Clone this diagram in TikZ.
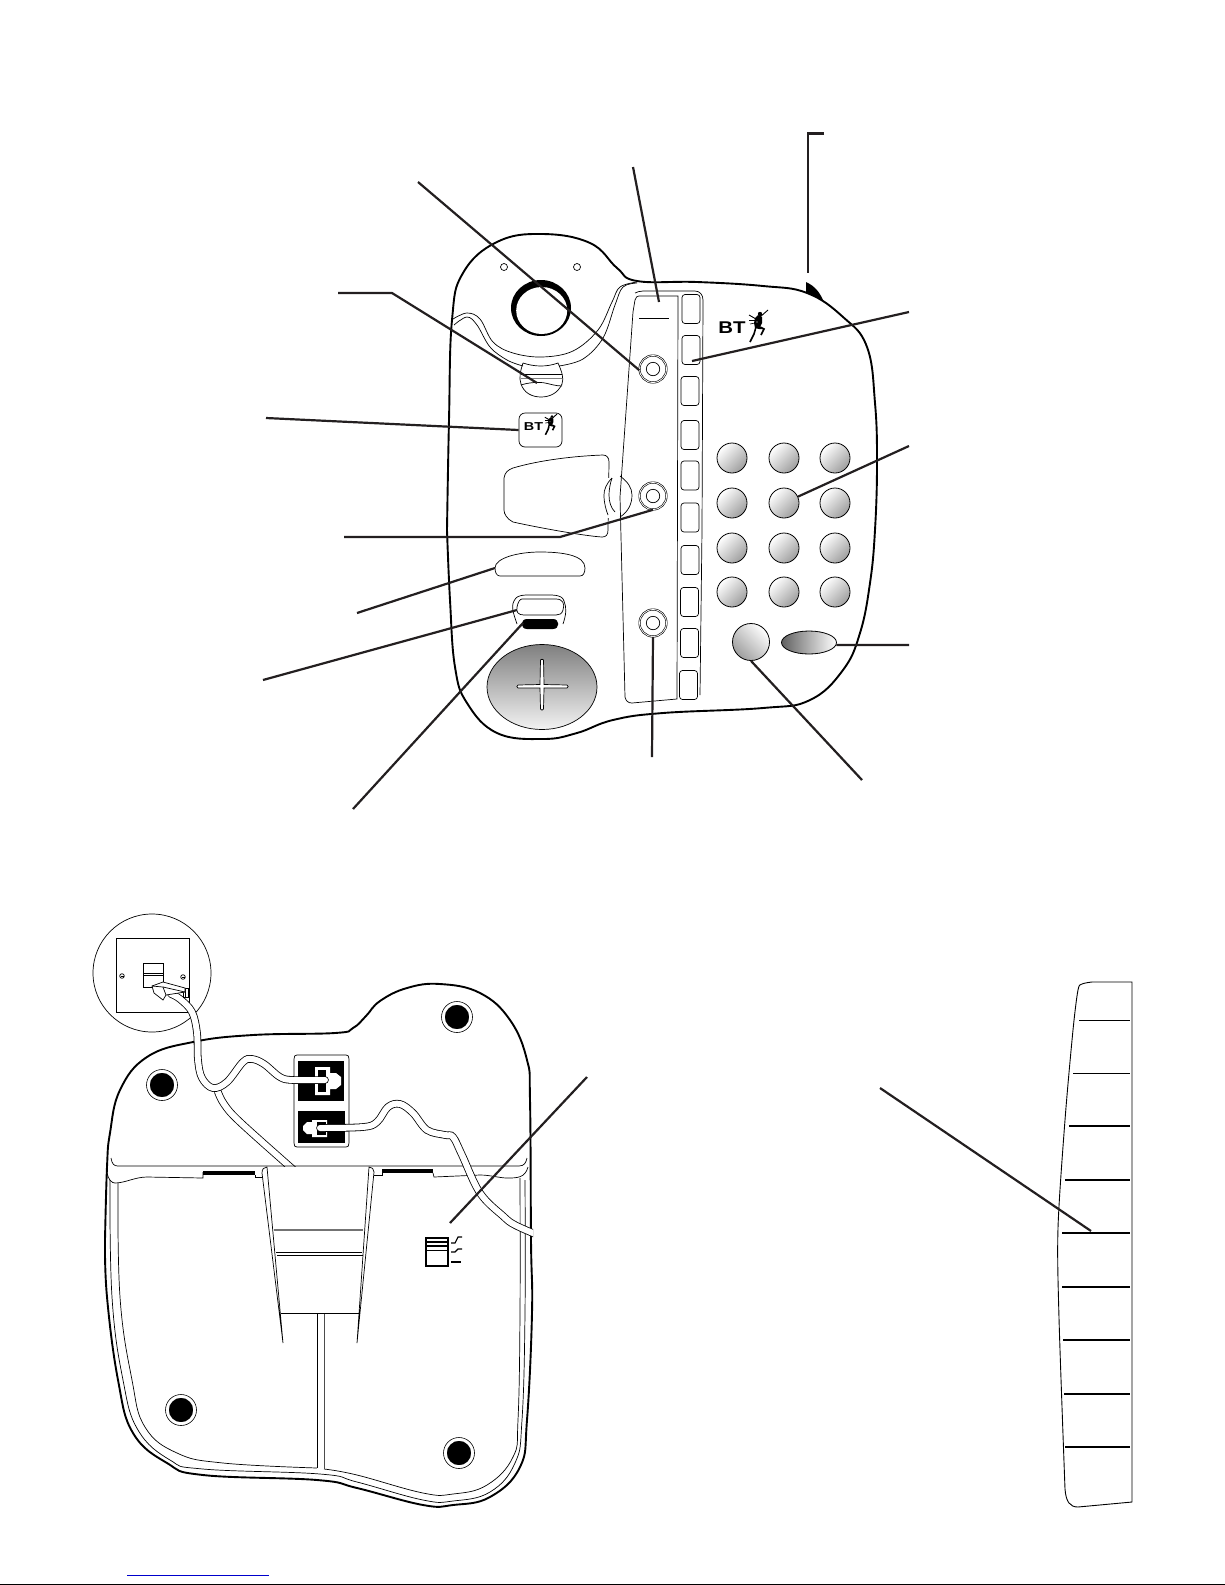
\documentclass[tikz,border=0pt]{standalone}
\usepackage{fontspec}
\setsansfont{Liberation Sans}
\usetikzlibrary{shapes.geometric}
\definecolor{leaderink}{HTML}{231F20}
\definecolor{linkblue}{HTML}{0000CC}
\tikzset{
  leader/.style={draw=leaderink,line width=2.2pt},
  outline/.style={line width=1.9pt},
  thin line/.style={line width=0.7pt},
  softkey/.style={draw,line width=0.7pt,rounded corners=3pt,minimum width=18pt,minimum height=29pt,inner sep=0pt},
  ringknob/.style={circle,draw,line width=0.6pt,double,double distance=0.8pt,minimum size=27pt,inner sep=0pt},
  keycap/.style={circle,draw,line width=0.8pt,minimum size=30pt,inner sep=0pt,shading=axis,top color=white,bottom color=black!38,shading angle=45},
  foot/.style={circle,fill=black,draw=white,line width=1.5pt,minimum size=26pt,inner sep=0pt},
  footring/.style={circle,draw,line width=0.6pt,minimum size=31pt,inner sep=0pt},
  cable/.style={draw,line width=0.8pt,double=white,double distance=6pt,line cap=round},
  btman/.pic={
    \fill (-2,-9) -- (1,-12) -- (5,-10) -- (5,-4) -- (3,0) -- (5,2) -- (2,2) -- (-2,1) -- (-3,-4) -- cycle;
    \draw[line width=0.9pt] (3,-10) -- (11,-17);
    \draw[line width=0.9pt] (-1,-8) -- (-8,-12);
    \draw[line width=0.7pt] (-8,-7) -- (-2,-7);
    \draw[line width=0.6pt] (-7,-3) -- (-2,-4);
    \draw[line width=1.6pt] (-1,0) -- (-3,7) -- (-7,15);
    \draw[line width=1.6pt] (3,0) -- (7,2) -- (4,8);
    \fill (3,-13) circle (2.2);
    \fill[white] (0,-5) circle (0.7);
    \draw[white,line width=0.4pt] (-1,2) -- (3,4);
  }
}
\begin{document}
\begin{tikzpicture}[x=1pt,y=-1pt]
  \useasboundingbox (0,0) rectangle (1225,1585);

  \draw[outline] plot[smooth,tension=0.7] coordinates {(447,530) (449,420) (452,320) (463,273) (497,242) (542,234) (590,243) (617,268) (637,281) (697,282) (763,286) (807,293) (843,317) (867,347) (875,403) (877,463) (875,530) (870,583) (860,633) (843,670) (810,700) (763,708) (663,713) (613,720) (577,733) (543,739) (497,733) (467,703) (455,667) (450,600) (447,530)};

  \fill (541,308) ellipse (30 and 28);
  \fill[white] (541.7,310.5) ellipse (25.5 and 23.5);
  \draw[thin line] (504,267) circle (3.5);
  \draw[thin line] (577,267) circle (3.5);
  \draw[thin line] plot[smooth,tension=0.6] coordinates {(453,319) (467,313) (480,319) (493,342) (513,353) (542,357) (573,351) (598,330) (612,302) (620,287) (637,282)};
  \draw[thin line] plot[smooth,tension=0.6] coordinates {(454,325) (467,317) (477,325) (490,347) (507,360) (523,366)};
  \draw[thin line] plot[smooth,tension=0.6] coordinates {(559,366) (583,359) (603,338) (615,305) (623,287) (637,283)};

  \draw[thin line] (523,363) .. controls (535,367) and (547,367) .. (558,363) .. controls (562,372) and (564,378) .. (562,384) .. controls (558,393) and (550,397) .. (541,397) .. controls (532,397) and (524,393) .. (521,384) .. controls (519,378) and (520,372) .. (523,363);
  \draw[thin line] (521,374) -- (562,374);
  \draw[line width=1pt,gray] (521,378) -- (562,378);
  \draw[thin line] (521,385) .. controls (530,382) and (540,382) .. (545,383) .. controls (550,384) and (556,386) .. (562,386);

  \node[draw,line width=0.7pt,rounded corners=6pt,minimum width=43pt,minimum height=34pt,inner sep=0pt] (badge) at (540.5,430) {};
  \node[inner sep=0pt,font=\sffamily\bfseries\fontsize{11.5}{11.5}\selectfont] (badgetext) at (533.5,427) {\scalebox{1.25}[1]{BT}};
  \pic[scale=0.65] at (550,425) {btman};
  \node[inner sep=0pt,font=\sffamily\bfseries\fontsize{17}{17}\selectfont] (logotext) at (732,328) {\scalebox{1.2}[1]{BT}};
  \pic at (757,327) {btman};

  \draw[thin line] (504,478) .. controls (505,472) and (508,470) .. (513,468) .. controls (540,460) and (575,456) .. (603,455) .. controls (607,455) and (609,458) .. (609,462) -- (608,530) .. controls (608,535) and (606,537) .. (602,537) .. controls (585,536) and (540,528) .. (513,522) .. controls (507,519) and (504,514) .. (504,510) -- cycle;
  \fill[white] (603,478) rectangle (620,518);
  \draw[thin line] (612,478) .. controls (606,484) and (604,490) .. (604,495) .. controls (604,503) and (606,510) .. (608,515);
  \draw[thin line] (612,478) .. controls (610,484) and (609,490) .. (609,495) .. controls (609,502) and (611,508) .. (615,512);
  \draw[thin line] (620,476) .. controls (628,482) and (632,488) .. (632,495) .. controls (632,504) and (628,512) .. (620,517);

  \draw[thin line] (635,293) .. controls (637,292) and (640,291) .. (643,291) -- (695,291) .. controls (700,291) and (703,295) .. (703,300) -- (702,530) -- (700,695);
  \draw[thin line] (678,296) -- (639,296) .. controls (637,296) and (636,297) .. (635,300) -- (633,312) -- (620,497) -- (625,697) .. controls (626,701) and (628,703) .. (632,703) -- (677,699) -- cycle;
  \draw[thin line] (639,318) -- (669,318);

  \foreach \n/\x/\y in {1/691/309,2/691/350,3/690/391,4/690/435,5/690/475.5,6/690/517.5,7/690/560,8/689.5/602,9/689.5/643,10/688.5/685}
    \node[softkey] (soft\n) at (\x,\y) {};

  \node[ringknob] (ringA) at (653,369) {};
  \draw[thin line] (ringA.center) circle (6.7);
  \node[ringknob] (ringB) at (653,496) {};
  \draw[thin line] (ringB.center) circle (6.7);
  \node[ringknob] (ringC) at (653,623) {};
  \draw[thin line] (ringC.center) circle (6.7);

  \foreach \r/\ky in {1/458,2/503,3/548,4/592}
    \foreach \c/\kx in {1/732,2/784,3/835}
      \node[keycap] (key\r\c) at (\kx,\ky) {};
  \node[keycap,minimum size=37pt,shading angle=-45] (redial) at (751,642) {};
  \node[ellipse,draw,line width=0.8pt,minimum width=55pt,minimum height=23pt,inner sep=0pt,shading=axis,left color=black!62,middle color=black!15,right color=white] (okey) at (809,642.5) {};

  \node[ellipse,line width=0.7pt,draw,minimum width=110pt,minimum height=85pt,inner sep=0pt,shading=axis,top color=black!50,bottom color=black!5] (pad) at (542,687) {};
  \draw[thin line,fill=white] (540.5,660) .. controls (541,659) and (543,659) .. (543.5,660) -- (544,684.5) -- (567,685) .. controls (568.5,685.5) and (568.5,687.5) .. (567,688) -- (544,688) -- (543.5,709) .. controls (543,710.5) and (541,710.5) .. (540.5,709) -- (540,688) -- (518,688) .. controls (516.5,687.5) and (516.5,685.5) .. (518,685) -- (540,684.5) -- cycle;

  \draw[thin line] (500,576) .. controls (497,576) and (495,573) .. (495,568) .. controls (495,558) and (518,552) .. (540,552) .. controls (562,552) and (585,555) .. (585,568) .. controls (585,573) and (583,576) .. (580,576) -- cycle;
  \draw[thin line] (517,624) .. controls (513,612) and (510,605) .. (516,598) .. controls (520,594) and (530,595) .. (540,595) .. controls (552,595) and (562,594) .. (564,601) .. controls (567,608) and (566,615) .. (563,624);
  \draw[thin line] (522,599) -- (556,599) .. controls (563,599) and (565,604) .. (563,610) .. controls (562,614) and (559,615) .. (556,615) -- (524,615) .. controls (518,615) and (516,612) .. (517,607) .. controls (518,602) and (520,599) .. (522,599) -- cycle;
  \fill (527,619) -- (553,619) .. controls (560,619) and (560,629) .. (553,629) -- (527,629) .. controls (520,629) and (520,619) .. (527,619) -- cycle;

  \fill (806,282) .. controls (815,286) and (820,293) .. (823,300) -- (806,293) -- cycle;

  \coordinate (volend) at (418,182);
  \coordinate (displayfree) at (633,167);
  \coordinate (displayend) at (659,302);
  \coordinate (bracketfree) at (824,133.5);
  \coordinate (bracketknee) at (808,133.5);
  \coordinate (bracketend) at (808,273);
  \coordinate (softfree) at (909,312);
  \coordinate (softend) at (692,361);
  \coordinate (keyfree) at (909,446);
  \coordinate (okfree) at (909,645);
  \coordinate (redialfree) at (862,780);
  \coordinate (ringCfree) at (652,757);
  \coordinate (blackfree) at (353,809);
  \coordinate (blackend) at (523,623);
  \coordinate (buttonfree) at (263,680);
  \coordinate (buttonend) at (517,610);
  \coordinate (pillfree) at (357,613);
  \coordinate (pillend) at (495,568);
  \coordinate (ringBfree) at (344,537);
  \coordinate (ringBknee) at (560,537);
  \coordinate (badgefree) at (266,418);
  \coordinate (wheelfree) at (338,293);
  \coordinate (wheelknee) at (392,293);
  \coordinate (wheelend) at (537,383);
  \draw[leader] (volend) -- (ringA.185);
  \draw[leader] (displayfree) -- (displayend);
  \draw[leader] (bracketfree) -- (bracketknee) -- (bracketend);
  \draw[leader] (softfree) -- (softend);
  \draw[leader] (keyfree) -- (key22);
  \draw[leader] (okfree) -- (okey.-5);
  \draw[leader] (redialfree) -- (redial.south);
  \draw[leader] (ringCfree) -- (ringC.south);
  \draw[leader] (blackfree) -- (blackend);
  \draw[leader] (buttonfree) -- (buttonend);
  \draw[leader] (pillfree) -- (pillend);
  \draw[leader] (ringBfree) -- (ringBknee) -- (ringB.south);
  \draw[leader] (badgefree) -- (badge.west);
  \draw[leader] (wheelfree) -- (wheelknee) -- (wheelend);

  \draw[outline] plot[smooth,tension=0.7] coordinates {(105,1240) (107,1167) (110,1133) (120,1090) (147,1057) (193,1042) (253,1035) (335,1033) (353,1028) (366,1016) (380,1001) (407,988) (440,984) (480,993) (510,1020) (527,1060) (530,1100) (531,1240) (532,1313) (527,1420) (520,1467) (490,1497) (453,1505) (423,1505) (357,1488) (317,1480) (203,1475) (167,1463) (133,1433) (118,1380) (107,1297) (105,1240)};
  \draw[thin line] plot[smooth,tension=0.7] coordinates {(110,1180) (112,1297) (123,1380) (138,1430) (170,1460) (203,1469) (320,1474) (357,1482) (423,1500) (453,1501) (490,1492) (515,1463) (522,1420) (525,1313) (525,1180)};
  \draw[thin line] plot[smooth,tension=0.7] coordinates {(118,1183) (120,1297) (132,1380) (145,1427) (177,1453) (223,1463) (317,1468)};
  \draw[thin line] plot[smooth,tension=0.7] coordinates {(324,1469) (357,1475) (423,1493) (453,1494) (487,1485) (513,1457) (518,1420) (520,1313) (520,1178)};
  \draw[thin line] (317,1313) -- (317,1468);
  \draw[line width=0.8pt,black!70] (324,1313) -- (324,1469);

  \begin{scope}
    \clip (200,1080) rectangle (320,1166);
    \draw[cable] plot[smooth,tension=0.6] coordinates {(218,1092) (224,1104) (240,1122) (296,1172)};
  \end{scope}

  \draw[thin line] (111,1158) .. controls (112,1164) and (114,1166) .. (118,1166) -- (519,1166) .. controls (524,1166) and (526,1163) .. (527,1158);
  \draw[thin line] (107,1172) .. controls (108,1180) and (112,1183) .. (115,1183) .. controls (125,1183) and (135,1177) .. (147,1177) -- (203,1178) -- (203,1172);
  \fill (203,1171) rectangle (255,1175);
  \draw[thin line] (255,1175) -- (255,1177) -- (262,1177);
  \draw[thin line] (374,1175) -- (382,1175) -- (382,1169);
  \fill (382,1169) rectangle (433,1173);
  \draw[thin line] (433,1173) -- (434,1177) -- (480,1175) .. controls (490,1175) and (500,1178) .. (507,1178) .. controls (517,1178) and (525,1178) .. (528,1167);

  \draw[thin line] (262,1173) .. controls (262,1169) and (264,1167) .. (267,1167) -- (283,1343) -- cycle;
  \draw[thin line] (374,1172) .. controls (374,1169) and (372,1167) .. (369,1167) -- (357,1343) -- cycle;
  \draw[line width=1.2pt,black!55] (274,1230) -- (363,1230);
  \draw[thin line] (276,1252) -- (362,1252);
  \draw[thin line] (277,1255) -- (363,1255);
  \draw[thin line] (281,1313) -- (359,1313);

  \foreach \n/\x/\y in {A/457/1017,B/162/1085,C/181/1410,D/459/1453} {
    \node[foot] (foot\n) at (\x,\y) {};
    \node[footring] at (foot\n.center) {};
  }

  \draw[line width=0.7pt] (294,1059) .. controls (294,1056) and (295,1055) .. (297,1055) -- (346,1055) .. controls (348,1055) and (349,1056) .. (349,1059) -- (349,1143) .. controls (349,1146) and (348,1147) .. (346,1147) -- (297,1147) .. controls (295,1147) and (294,1146) .. (294,1143) -- cycle;
  \fill (298,1061) rectangle (344,1101);
  \fill (298,1111) rectangle (345,1143);
  \fill[white] (315,1067) -- (330,1067) -- (330,1073) -- (336,1073) -- (341,1077) -- (341,1085) -- (336,1089) -- (330,1089) -- (330,1095) -- (315,1095) -- cycle;
  \fill (318,1070) rectangle (326,1092);
  \fill[white] (312,1120) -- (327,1120) -- (327,1137) -- (312,1137) -- (312,1134) -- (307,1134) -- (303,1130) -- (303,1126) -- (307,1122) -- (312,1122) -- cycle;
  \fill (317,1122) rectangle (326,1135);

  \draw[line width=0.7pt] (152,973) circle (59);
  \draw[thin line] (116,938) rectangle (189,1012);
  \draw[thin line] (143,963) rectangle (163,987);
  \draw[thin line] (143,973) -- (163,973);
  \draw[thin line] (143,975) -- (163,975);
  \draw[thin line] (122,976) circle (2.3);
  \draw[thin line] (122,976) +(-1.5,0) -- +(1.5,0);
  \draw[thin line] (183,977) circle (2.3);
  \draw[thin line] (183,977) +(-1.5,0) -- +(1.5,0);

  \draw[cable] plot[smooth,tension=0.6] coordinates {(171,994) (180,999) (192,1012) (197,1033) (198,1060) (202,1078) (213,1088) (227,1082) (243,1062) (252,1059) (264,1064) (280,1077) (293,1080) (325,1080)};
  \begin{scope}
    \clip (300,1090) rectangle (533,1260);
    \draw[cable] plot[smooth,tension=0.6] coordinates {(320,1128) (363,1127) (377,1122) (388,1107) (400,1104) (413,1113) (427,1130) (445,1135) (453,1137) (462,1155) (480,1193) (503,1216) (515,1225) (540,1236)};
  \end{scope}

  \draw[thin line,fill=white] (183,988) rectangle (188,997);
  \draw[line width=0.4pt] (185,988) -- (185,997);
  \draw[thin line,fill=white] (152,986) -- (163,982) -- (185,988) -- (185,992) -- (166,995) -- (163,1000) -- (154,993) -- cycle;
  \draw[thin line] (163,987) -- (185,992);
  \draw[thin line] (166,995) -- (163,987) -- (152,986);

  \draw[line width=2pt] (426,1238) rectangle (448,1266);
  \draw[line width=1.3pt] (425,1242) -- (448,1242);
  \draw[line width=1.3pt] (425,1246) -- (448,1246);
  \draw[line width=1.3pt] (425,1250.5) -- (448,1250.5);
  \draw[line width=1.1pt] (451,1243) -- (455,1243) -- (458,1237) -- (462,1237);
  \draw[line width=1.1pt] (451,1252) -- (455,1252) -- (458,1249) -- (462,1249);
  \draw[line width=1.1pt] (451,1262) -- (461,1262);

  \coordinate (symbolfree) at (587,1077);
  \coordinate (symbolend) at (450,1223);
  \draw[leader] (symbolfree) -- (symbolend);

  \draw[line width=0.9pt] plot[smooth,tension=0.5] coordinates {(1092,982) (1082,984) (1078,990) (1073,1030) (1065,1120) (1058,1228) (1059,1318) (1065,1489)};
  \draw[line width=0.9pt] (1065,1489) .. controls (1066,1502) and (1070,1507) .. (1078,1507) -- (1132,1502) -- (1132,982) -- (1092,982);
  \foreach \w/\sx/\sy in {0.8/1079/1020,0.8/1073/1073,1.1/1069/1126,1.3/1065/1180,1.3/1062/1233,1.1/1062/1287,1.3/1063/1340,1.2/1064/1394,1.1/1065/1447}
    \draw[line width=\w pt] (\sx,\sy) -- (1130,\sy);
  \coordinate (stripfree) at (880,1088);
  \coordinate (stripend) at (1091,1231);
  \draw[leader] (stripfree) -- (stripend);

  \draw[line width=1pt,linkblue] (127,1575) -- (269,1575);
  \draw[line width=1pt] (0,1584) -- (1225,1584);
\end{tikzpicture}
\end{document}
